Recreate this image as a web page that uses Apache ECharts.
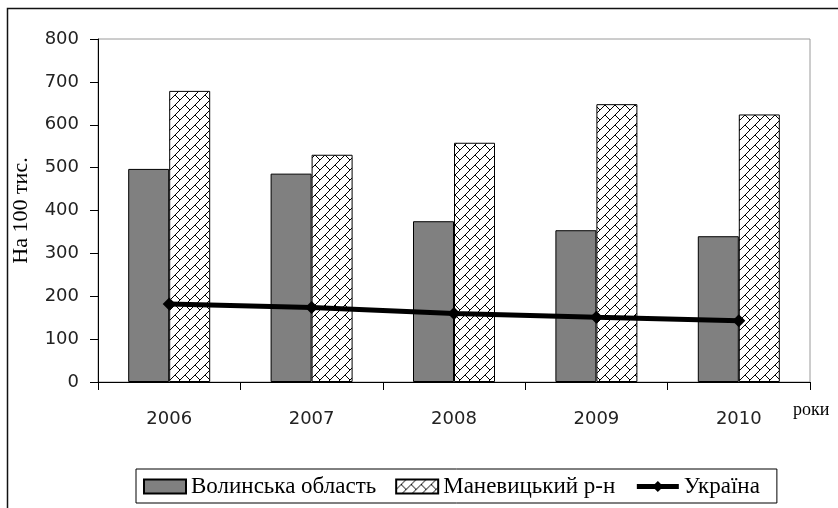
<!DOCTYPE html>
<html>
<head>
<meta charset="utf-8">
<script src="https://cdn.jsdelivr.net/npm/echarts@6/dist/echarts.min.js"></script>
<style>
html, body { margin: 0; padding: 0; background: #fff; }
#chart { width: 838px; height: 508px; }
</style>
</head>
<body>
<div id="chart"></div>
<script>
var years = ['2006', '2007', '2008', '2009', '2010'];
var volyn = [497, 486, 375, 354, 340];
var manevychi = [679, 530, 558, 648, 624];
var ukraine = [182, 174, 160, 151, 143];
var yTicks = [0, 800, 100]; // min, max, interval

// brick hatch fill for the district bars (pixel drawn so it stays crisp)
function makeBricks() {
    var n = 10;
    var c = document.createElement('canvas');
    c.width = n;
    c.height = n;
    var ctx = c.getContext('2d');
    ctx.fillStyle = '#fff';
    ctx.fillRect(0, 0, n, n);
    ctx.fillStyle = '#000';
    for (var i = 0; i < n; i++) {
        ctx.fillRect(i, n - 1 - i, 1, 1);
    }
    for (var j = n / 2; j < n; j++) {
        ctx.fillRect(j, j, 1, 1);
    }
    return c;
}

var dom = document.getElementById('chart');
var myChart = echarts.init(dom);
var serif = '"Liberation Serif", "DejaVu Serif", serif';
var sans = '"DejaVu Sans", sans-serif';

var option = {
    backgroundColor: '#fff',
    animation: false,
    grid: {
        left: 98,
        right: 28,
        top: 39,
        bottom: 126,
        show: true,
        borderColor: '#9a9a9a',
        borderWidth: 1
    },
    legend: {
        left: 136,
        top: 469,
        padding: [6, 17, 5, 7],
        itemGap: 19,
        itemWidth: 42,
        itemHeight: 14,
        borderColor: '#000',
        borderWidth: 1,
        textStyle: { fontFamily: serif, fontSize: 23, color: '#000' },
        data: [
            { name: 'Волинська область', icon: 'rect' },
            { name: 'Маневицький р-н', icon: 'rect' },
            { name: 'Україна', lineStyle: { width: 5 } }
        ]
    },
    xAxis: {
        type: 'category',
        data: years,
        axisLine: { lineStyle: { color: '#000', width: 1 } },
        axisTick: { show: true, inside: false, length: 8, lineStyle: { color: '#000' } },
        axisLabel: { color: '#222', fontFamily: sans, fontSize: 18, margin: 28 }
    },
    yAxis: {
        type: 'value',
        min: yTicks[0],
        max: yTicks[1],
        interval: yTicks[2],
        name: 'На 100 тис.',
        nameLocation: 'middle',
        nameRotate: 90,
        nameGap: 66,
        nameTextStyle: { fontFamily: serif, fontSize: 22, color: '#000' },
        splitLine: { show: false },
        axisLine: { show: true, lineStyle: { color: '#000', width: 1 } },
        axisTick: { show: true, inside: false, length: 8, lineStyle: { color: '#000' } },
        axisLabel: { color: '#222', fontFamily: sans, fontSize: 18, margin: 19 }
    },
    graphic: [
        {
            type: 'rect',
            silent: true,
            shape: { x: 7.5, y: 8.5, width: 1000, height: 1000 },
            style: { fill: 'none', stroke: '#111', lineWidth: 1.5 }
        },
        {
            type: 'text',
            left: 793,
            top: 401,
            style: { text: 'роки', font: '18px ' + serif, fill: '#000' }
        }
    ],
    series: [
        {
            name: 'Волинська область',
            type: 'bar',
            data: volyn,
            barWidth: 41,
            barGap: '0%',
            itemStyle: { color: '#808080', borderColor: '#000', borderWidth: 1 }
        },
        {
            name: 'Маневицький р-н',
            type: 'bar',
            data: manevychi,
            barWidth: 41,
            barGap: '0%',
            itemStyle: {
                color: { image: makeBricks(), repeat: 'repeat' },
                borderColor: '#000',
                borderWidth: 1
            }
        },
        {
            name: 'Україна',
            type: 'line',
            data: ukraine,
            symbol: 'diamond',
            symbolSize: 13,
            lineStyle: { color: '#000', width: 5 },
            itemStyle: { color: '#000' },
            z: 5
        }
    ]
};
if (option && typeof option === "object") {
    myChart.setOption(option, true);
}
</script>
</body>
</html>
